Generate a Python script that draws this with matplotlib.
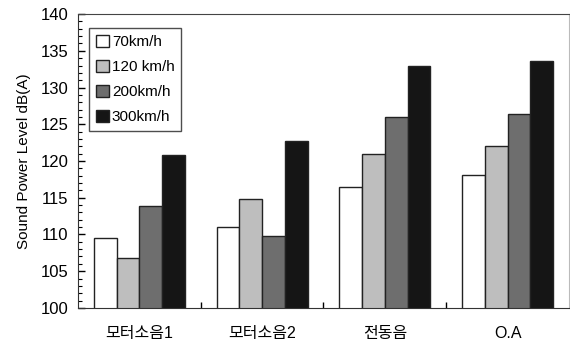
import matplotlib.pyplot as plt
import numpy as np
from matplotlib.ticker import MultipleLocator, FixedLocator

plt.rcParams['font.family'] = ['Liberation Sans', 'Noto Sans CJK KR']

# Data
categories = ['모터소음1', '모터소음2', '전동음', 'O.A']
speeds = ['70km/h', '120 km/h', '200km/h', '300km/h']
values = {
    '70km/h':   [109.5, 111.0, 116.4, 118.1],
    '120 km/h': [106.8, 114.8, 120.9, 122.0],
    '200km/h':  [113.9, 109.8, 126.0, 126.4],
    '300km/h':  [120.8, 122.7, 133.0, 133.6],
}
colors = ['#FFFFFF', '#BEBEBE', '#6E6E6E', '#151515']

fig = plt.figure(figsize=(5.7, 3.44), dpi=100)
ax = fig.add_axes([0.137, 0.105, 0.861, 0.854])

x = np.arange(len(categories))
w = 0.185
for i, (s, c) in enumerate(zip(speeds, colors)):
    ax.bar(x + (i - 1.5) * w, values[s], w, bottom=0, color=c,
           edgecolor='#222222', linewidth=1.0, label=s, zorder=2)

ax.set_ylim(100, 140)
ax.set_xlim(-0.5, len(categories) - 0.5)
ax.yaxis.set_major_locator(MultipleLocator(5))
ax.yaxis.set_minor_locator(MultipleLocator(1))
ax.tick_params(axis='y', direction='in', length=5, width=1, labelsize=12, pad=7)
ax.tick_params(axis='y', which='minor', direction='in', length=3, width=0.8)

ax.xaxis.set_major_locator(FixedLocator(x))
ax.set_xticklabels(categories, fontsize=11.5)
ax.tick_params(axis='x', which='major', length=0, pad=13)
ax.xaxis.set_minor_locator(FixedLocator(x[:-1] + 0.5))
ax.tick_params(axis='x', which='minor', direction='in', length=4, width=1)

ax.set_ylabel('Sound Power Level dB(A)', fontsize=11, labelpad=7)

ax.spines['left'].set_color('#333333')
ax.spines['bottom'].set_color('#333333')
ax.spines['top'].set_color('#444444')
ax.spines['right'].set_color('#BBBBBB')

leg = ax.legend(loc='upper left', bbox_to_anchor=(0.022, 0.953), fontsize=11,
                frameon=True, fancybox=False, edgecolor='#222222',
                handlelength=0.85, handleheight=0.85, handletextpad=0.2,
                labelspacing=0.7, borderpad=0.45, borderaxespad=0)
leg.get_frame().set_linewidth(1.0)

fig.savefig('out.png', dpi=100, facecolor='white')
